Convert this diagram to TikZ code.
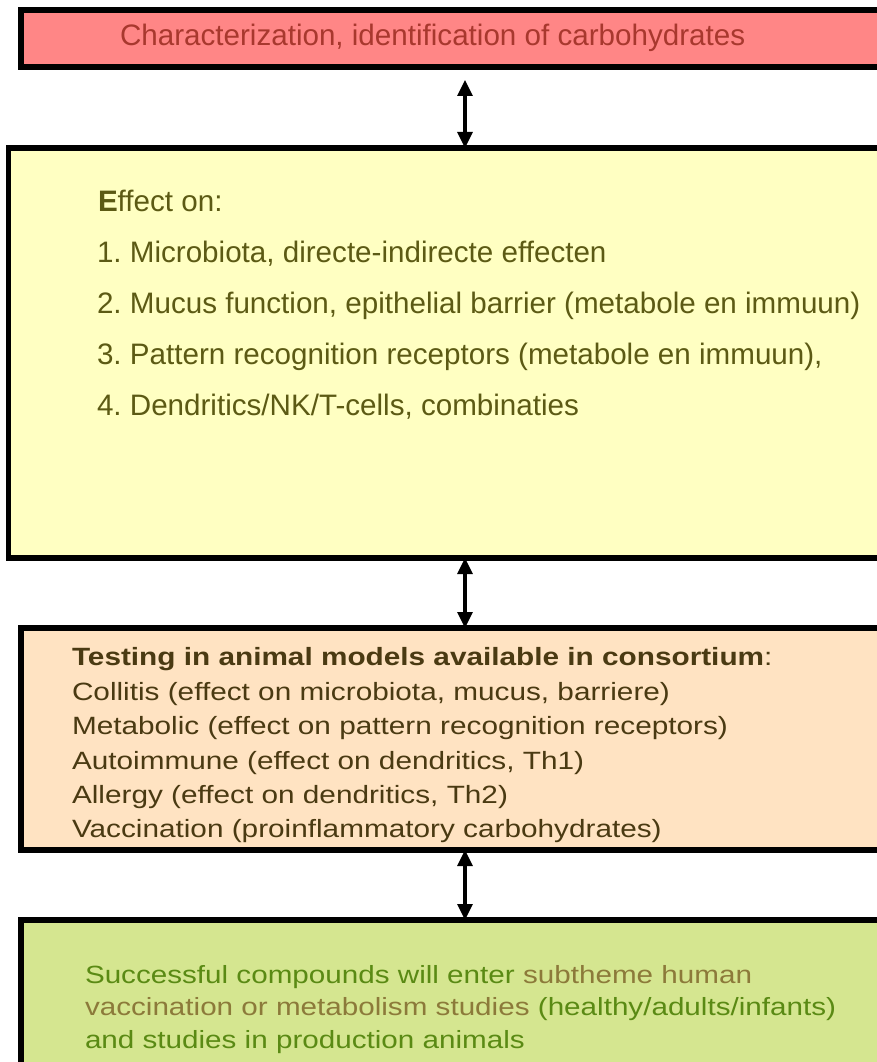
\documentclass[tikz,border=0pt]{standalone}
\usepackage{fontspec}
\setmainfont{Liberation Sans}
\newfontfamily\widefont{Liberation Sans}[FakeStretch=1.19]
\usetikzlibrary{arrows.meta,calc}
\frenchspacing
\definecolor{redfill}{HTML}{FF8686}
\definecolor{redtext}{HTML}{A8382E}
\definecolor{yelfill}{HTML}{FFFFC2}
\definecolor{yeltext}{HTML}{5C5A14}
\definecolor{peachfill}{HTML}{FFE3C2}
\definecolor{peachtext}{HTML}{4A3A12}
\definecolor{greenfill}{HTML}{D5E690}
\definecolor{greentext}{HTML}{5A8A14}
\definecolor{browntext}{HTML}{8C7A3A}
\tikzset{
  x=1pt, y=-1pt,
  box/.style={draw=black, line width=5.5pt, rectangle, outer sep=0pt, inner sep=0pt, anchor=north west},
  txt/.style={anchor=base west, inner sep=0pt, outer sep=0pt},
  arr/.style={line width=3.2pt, {Triangle[length=16pt,width=15pt]}-{Triangle[length=16pt,width=15pt]}},
}
\begin{document}
\begin{tikzpicture}
\clip (0,0) rectangle (877,1062);
\fill[white] (0,0) rectangle (877,1062);
% boxes
\node[box, fill=redfill, minimum width=900pt, minimum height=57pt] (b1) at (21,10) {};
\node[box, fill=yelfill, minimum width=900pt, minimum height=410pt] (b2) at (8.5,148) {};
\node[box, fill=peachfill, minimum width=900pt, minimum height=222pt] (b3) at (21,628) {};
\node[box, fill=greenfill, minimum width=900pt, minimum height=200pt] (b4) at (21,920) {};
% texts
\node[txt, font=\fontsize{29.6}{34}\selectfont, text=redtext] (t1) at (120,46) {Characterization, identification of carbohydrates};
\begin{scope}[every node/.style={txt, font=\fontsize{29.6}{34}\selectfont, text=yeltext}]
\node (e0) at (98,211) {\textbf{E}ffect on:};
\node (e1) at (97,262) {1. Microbiota, directe-indirecte effecten};
\node (e2) at (97,313) {2. Mucus function, epithelial barrier (metabole en immuun)};
\node (e3) at (97,364) {3. Pattern recognition receptors (metabole en immuun),};
\node (e4) at (97,415) {4. Dendritics/NK/T-cells, combinaties};
\end{scope}
\begin{scope}[every node/.style={txt, font=\widefont\fontsize{25}{30}\selectfont, text=peachtext}]
\node (a0) at (72,665) {\textbf{Testing in animal models available in consortium}:};
\node (a1) at (72,700) {Collitis (effect on microbiota, mucus, barriere)};
\node (a2) at (72,734) {Metabolic (effect on pattern recognition receptors)};
\node (a3) at (72,769) {Autoimmune (effect on dendritics, Th1)};
\node (a4) at (72,803) {Allergy (effect on dendritics, Th2)};
\node (a5) at (72,837) {Vaccination (proinflammatory carbohydrates)};
\end{scope}
\begin{scope}[every node/.style={txt, font=\widefont\fontsize{24.9}{30}\selectfont, text=greentext}]
\node (g1) at (85,983) {Successful compounds will enter \textcolor{browntext}{subtheme human}};
\node (g2) at (85,1015.5) {\textcolor{browntext}{vaccination or metabolism studies} (healthy/adults/infants)};
\node (g3) at (85,1048) {and studies in production animals};
\end{scope}
% connectors
\coordinate (ax) at (465,0);
\draw[arr, shorten <=13pt] (b1.south -| ax) -- (b2.north -| ax);
\draw[arr] (b2.south -| ax) -- (b3.north -| ax);
\draw[arr] (b3.south -| ax) -- (b4.north -| ax);
\end{tikzpicture}
\end{document}
